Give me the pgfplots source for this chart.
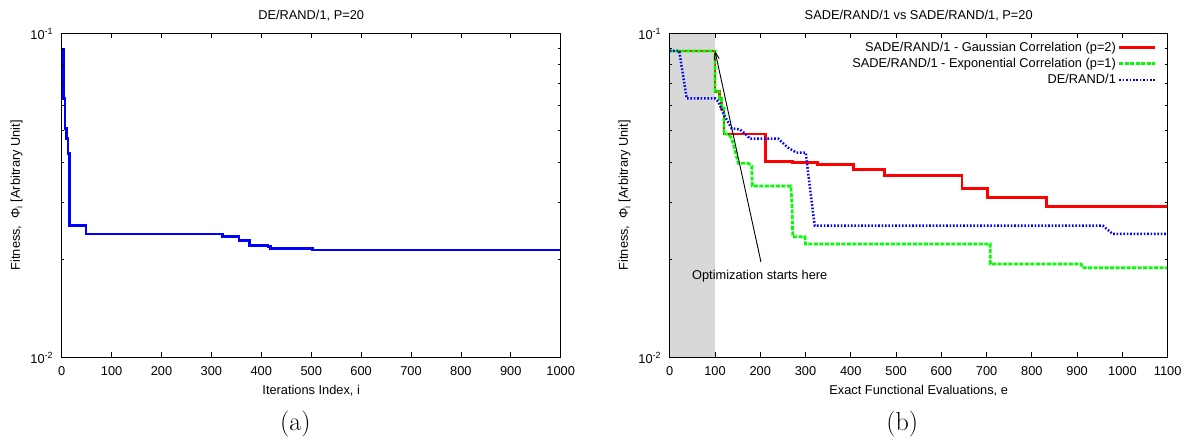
\documentclass[border=0pt]{standalone}
\usepackage{fontspec}
\usepackage{pgfplots}
\pgfplotsset{compat=1.18}
\usetikzlibrary{arrows.meta}
\newfontfamily\sans{Liberation Sans}
\newcommand{\fs}{\sans\fontsize{12.8}{15}\selectfont}
\definecolor{ggreen}{RGB}{0,255,0}
\definecolor{gshade}{RGB}{216,216,216}

\pgfplotstableread{
x y
0 0.0893
3.3 0.0630
6.7 0.0509
10 0.0474
12.7 0.0426
15 0.02548
48.6 0.0240
322 0.02357
355.3 0.02291
376.7 0.02211
413.3 0.02195
417.9 0.02170
503.3 0.02144
1000 0.02144
}\tblA

\pgfplotstableread{
x y
0 0.0882
100 0.0660
109.5 0.0630
114.6 0.0587
119.7 0.0489
211.8 0.0403
271.3 0.0400
325.6 0.0394
406.6 0.0379
475 0.0365
645.6 0.0331
701.5 0.0312
831.6 0.02924
1100 0.02924
}\tblRed

\pgfplotstableread{
x y
0 0.0882
100 0.0882
100 0.0660
109.5 0.0660
109.5 0.0630
114.6 0.0630
114.6 0.0587
119.7 0.0587
119.7 0.0489
130 0.0489
136.8 0.0474
144 0.0436
151.4 0.0397
173.5 0.0397
181 0.0390
182.5 0.0338
267.6 0.0338
270 0.0299
271.8 0.02357
298.5 0.02357
300 0.02237
708 0.02237
708 0.01941
909 0.01941
911 0.01891
1100 0.01891
}\tblGreen

\pgfplotstableread{
x y
0 0.0882
21 0.0882
37.5 0.0630
100 0.0630
107.3 0.0615
122 0.0553
136.7 0.0509
155 0.0505
166 0.0491
177 0.0473
239.6 0.0473
260 0.0445
280 0.0428
300.7 0.0428
305.8 0.0370
316.8 0.02782
320.5 0.02548
956.6 0.02548
978.7 0.02402
1100 0.02402
}\tblBlue

\pgfplotsset{
  myaxis/.style={
    scale only axis, height=324pt,
    ytick={0.01,0.1},
    yticklabels={10\textsuperscript{-2},10\textsuperscript{-1}},
    minor ytick={0.02,0.03,0.04,0.05,0.06,0.07,0.08,0.09},
    axis line style={line width=1pt},
    major tick length=5pt, minor tick length=2.5pt,
    tick style={black, line width=0.8pt},
    tick label style={font=\fs, inner sep=0pt},
    xticklabel style={anchor=base, yshift=-18.4pt},
    yticklabel style={anchor=base east, xshift=-8.4pt, yshift=-5.7pt},
    /pgf/number format/1000 sep={},
    /pgf/number format/assume math mode=true,
    axis on top,
  }
}

\begin{document}
\begin{tikzpicture}
\useasboundingbox (0,0) rectangle (1196pt,441pt);

\begin{axis}[ymode=log, ymin=0.01, ymax=0.1, myaxis,
  at={(61.7pt,83.7pt)}, anchor=south west, width=499pt,
  xmin=0, xmax=1000, xtick={0,100,...,1000}]
\addplot[const plot, color=blue, line width=2.7pt] table[x=x,y=y] {\tblA};
\end{axis}

\begin{axis}[ymode=log, ymin=0.01, ymax=0.1, myaxis,
  at={(669.7pt,83.7pt)}, anchor=south west, width=498pt,
  xmin=0, xmax=1100, xtick={0,100,...,1100},
  legend style={draw=none, fill=none, at={(1,1)}, anchor=north east,
    xshift=-11.2pt, yshift=-6.4pt, inner sep=0pt, font=\fs,
    row sep=1.5pt},
  legend cell align=right, legend plot pos=right,
  legend image code/.code={\draw[#1] (0pt,0pt) -- (35.6pt,0pt);}]
\addplot[fill=gshade, draw=none, forget plot] coordinates {(0,0.01) (0,0.1) (100,0.1) (100,0.01)};
\addplot[const plot, color=red, line width=2.8pt] table[x=x,y=y] {\tblRed};
\addlegendentry{SADE/RAND/1 - Gaussian Correlation (p=2)}
\addplot[color=ggreen, line width=2.7pt, dash pattern=on 4pt off 1.5pt] table[x=x,y=y] {\tblGreen};
\addlegendentry{SADE/RAND/1 - Exponential Correlation (p=1)}
\addplot[color=blue, line width=2.5pt, dash pattern=on 1.6pt off 1.8pt] table[x=x,y=y] {\tblBlue};
\addlegendentry{DE/RAND/1}
\addplot[black, line width=0.9pt, -{Straight Barb[length=7pt,width=5pt]}, forget plot] coordinates {(201.6,0.01968) (100,0.0882)};
\node[font=\fs, anchor=base] at (axis cs:198.8,0.01734) {Optimization starts here};
\end{axis}

% titles and labels
\node[font=\fs, anchor=base] at (311.2pt,421.7pt) {DE/RAND/1, P=20};
\node[font=\fs, anchor=base] at (918.7pt,421.7pt) {SADE/RAND/1 vs SADE/RAND/1, P=20};
\node[font=\fs, anchor=base] at (311.2pt,46.5pt) {Iterations Index, i};
\node[font=\fs, anchor=base] at (918.7pt,46.5pt) {Exact Functional Evaluations, e};
\node[font=\fs, anchor=base, rotate=90] at (19.9pt,245.7pt) {Fitness,\ \ Φ\textsubscript{i} [Arbitrary Unit]};
\node[font=\fs, anchor=base, rotate=90] at (627.9pt,245.7pt) {Fitness,\ \ Φ\textsubscript{i} [Arbitrary Unit]};
\node[font=\fontsize{26}{30}\selectfont, anchor=base] at (295.3pt,10.8pt) {(a)};
\node[font=\fontsize{26}{30}\selectfont, anchor=base] at (902.3pt,10.8pt) {(b)};
\end{tikzpicture}
\end{document}
